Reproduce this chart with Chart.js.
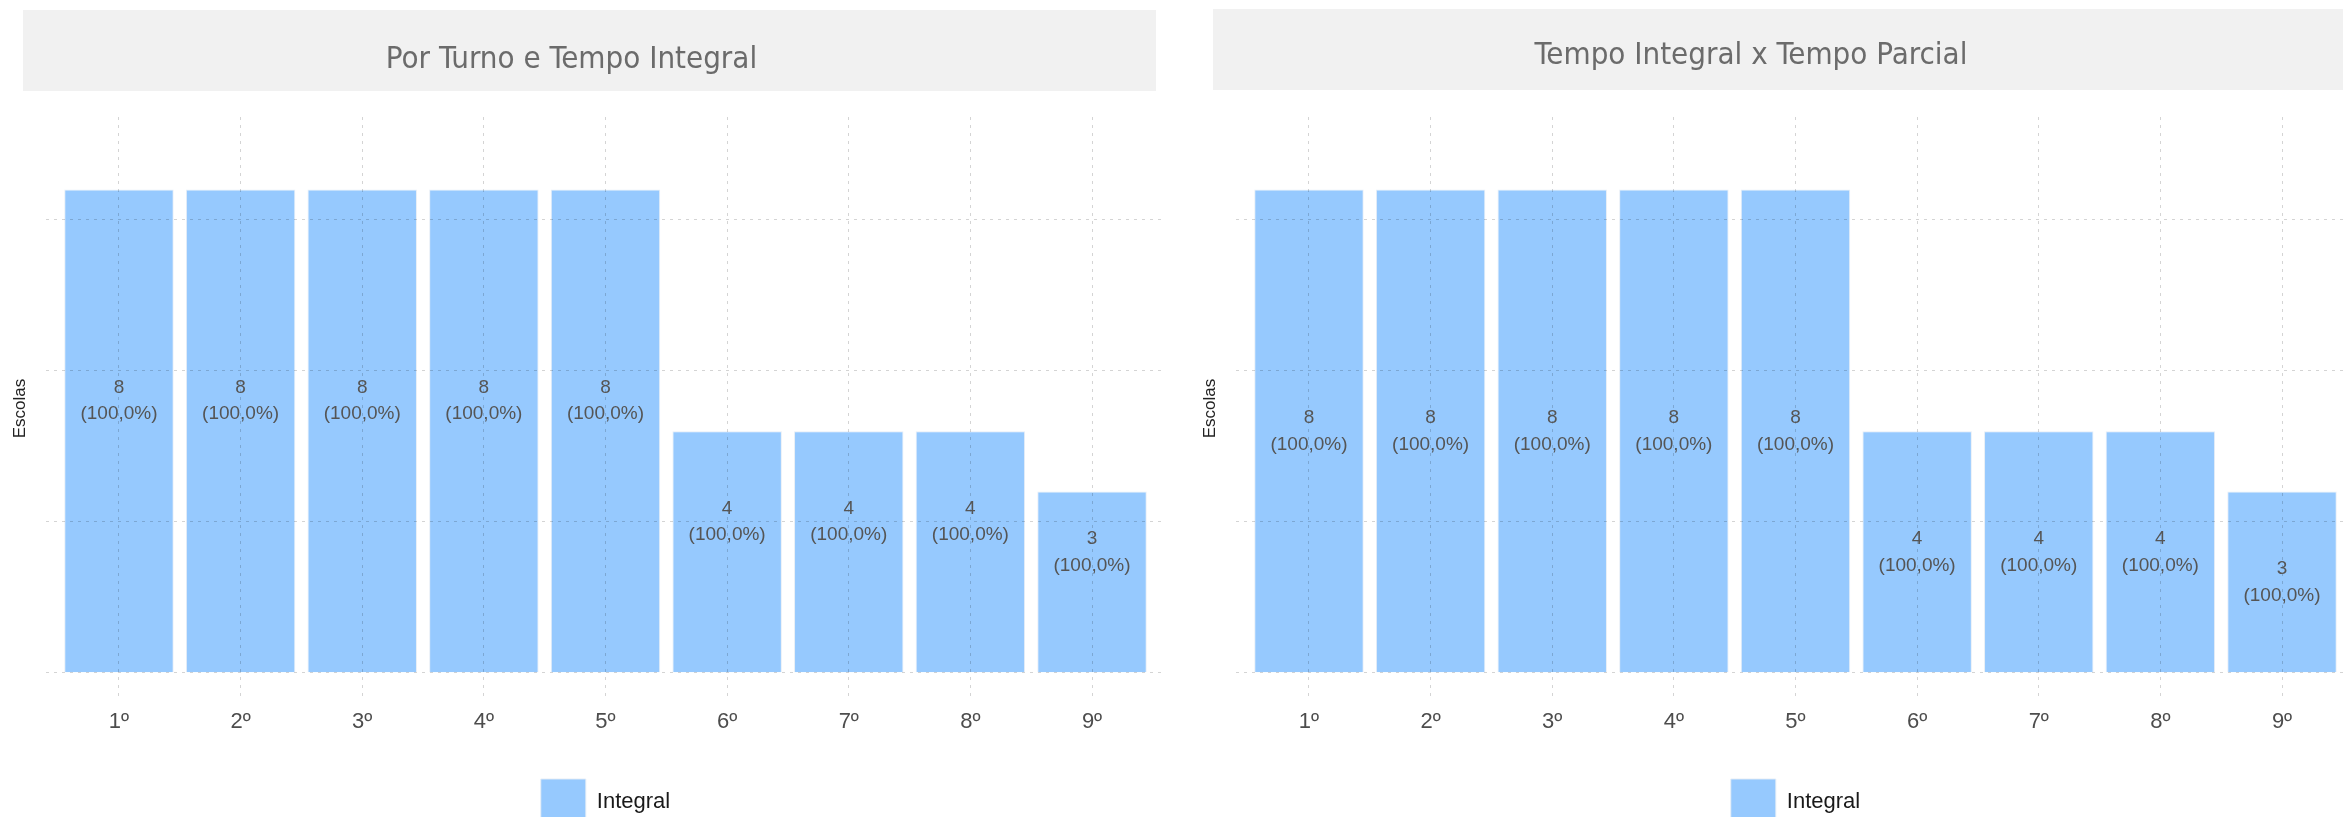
<!DOCTYPE html>
<html>
<head>
<meta charset="utf-8">
<script src="https://cdn.jsdelivr.net/npm/chart.js@4/dist/chart.umd.min.js"></script>
<style>
  html, body { margin:0; padding:0; background:#ffffff; overflow:hidden; width:2343px; height:817px; }
  canvas { position:absolute; top:0; }
  #leftChart { left:-22px; }
  #rightChart { left:1147px; }
</style>
</head>
<body>
<canvas id="leftChart" width="1187" height="834"></canvas>
<canvas id="rightChart" width="1208" height="834"></canvas>
<script>
// ---- data ----
const categories = ['1º', '2º', '3º', '4º', '5º', '6º', '7º', '8º', '9º'];
const seriesName = 'Integral';
const integralCounts = [8, 8, 8, 8, 8, 4, 4, 4, 3];
const integralPercents = [100, 100, 100, 100, 100, 100, 100, 100, 100];
const panelTitles = ['Por Turno e Tempo Integral', 'Tempo Integral x Tempo Parcial'];
const yAxisTitle = 'Escolas';
const yGridStep = 2.5;
const yRange = [-0.45, 9.2];
const xRange = [-0.6, 8.6];
const labelShift = [0.5, 0];   // vertical offset (in value units) of the bar labels in each panel

// ---- styles ----
const barColor = '#96c9fe';
const gridColor = 'rgba(0,0,0,0.17)';
const gridDash = [3, 5];
const baseFont = "'Liberation Sans', Arial, Helvetica, sans-serif";
const titleFont = "'Liberation Sans Narrow', 'DejaVu Sans Condensed', 'Liberation Sans', sans-serif";
const titleSize = 31;

Chart.defaults.font.family = baseFont;
Chart.defaults.animation = false;

const fmtPct = p => '(' + p.toFixed(1).replace('.', ',') + '%)';

const headerBox = {
  id: 'headerBox',
  beforeDraw(chart, args, opts) {
    const {ctx, chartArea} = chart;
    ctx.save();
    ctx.fillStyle = '#f1f1f1';
    const x0 = chartArea.left - 23;
    const x1 = chartArea.right - 9;
    ctx.fillRect(x0, opts.top, x1 - x0, 81);
    ctx.restore();
  }
};

const barLabels = {
  id: 'barLabels',
  afterDraw(chart, args, opts) {
    const {ctx} = chart;
    const meta = chart.getDatasetMeta(0);
    const yScale = chart.scales.y;
    ctx.save();
    ctx.font = '19px ' + baseFont;
    ctx.fillStyle = '#555555';
    ctx.textAlign = 'center';
    ctx.textBaseline = 'middle';
    meta.data.forEach((bar, i) => {
      const v = integralCounts[i];
      const cy = yScale.getPixelForValue(v / 2 + opts.shift);
      ctx.fillText(String(v), bar.x, cy - 13.3);
      ctx.fillText(fmtPct(integralPercents[i]), bar.x, cy + 13.3);
    });
    ctx.restore();
  }
};

function makePanel(canvasId, idx, cfg) {
  const data = categories.map((c, i) => ({x: i, y: integralCounts[i]}));
  const lh = titleSize * 1.2;
  return new Chart(document.getElementById(canvasId), {
    type: 'bar',
    data: {
      datasets: [{
        label: seriesName,
        data: data,
        backgroundColor: barColor,
        borderColor: 'rgba(228,236,245,0.9)',
        borderWidth: 1,
        barPercentage: 0.9,
        categoryPercentage: 1.0
      }]
    },
    options: {
      responsive: false,
      maintainAspectRatio: false,
      devicePixelRatio: 1,
      layout: { padding: 0 },
      scales: {
        x: {
          type: 'linear',
          offset: false,
          min: xRange[0],
          max: xRange[1],
          grid: { offset: false, color: gridColor, lineWidth: 1, drawTicks: false, z: 1 },
          border: { display: false, dash: gridDash },
          ticks: {
            stepSize: 1,
            includeBounds: false,
            padding: 9,
            color: '#4d4d4d',
            font: { size: 22 },
            callback: v => categories[v] ?? ''
          },
          afterFit: s => { s.height = 69; }
        },
        y: {
          type: 'linear',
          min: yRange[0],
          max: yRange[1],
          grid: { color: gridColor, lineWidth: 1, drawTicks: false, z: 1 },
          border: { display: false, dash: gridDash },
          ticks: { display: false, stepSize: yGridStep, includeBounds: false },
          title: {
            display: true,
            text: yAxisTitle,
            color: '#222222',
            font: { size: 17 },
            padding: { top: cfg.yTitlePad, bottom: 0 }
          },
          afterFit: s => { s.width = cfg.yAxisWidth; }
        }
      },
      plugins: {
        title: {
          display: true,
          text: panelTitles[idx],
          color: '#6b6b6b',
          font: { family: titleFont, size: titleSize, weight: 'normal' },
          padding: { top: cfg.titlePadTop, bottom: 117 - lh - cfg.titlePadTop }
        },
        legend: {
          position: 'bottom',
          fullSize: false,
          labels: {
            boxWidth: 45,
            boxHeight: 45,
            padding: 10,
            color: '#1a1a1a',
            font: { size: 22 }
          }
        },
        tooltip: { enabled: false },
        headerBox: { top: cfg.boxTop },
        barLabels: { shift: labelShift[idx] }
      }
    },
    plugins: [headerBox, barLabels]
  });
}

makePanel('leftChart', 0, { yAxisWidth: 68, yTitlePad: 32.5, titlePadTop: 41.2, boxTop: 10 });
makePanel('rightChart', 1, { yAxisWidth: 89, yTitlePad: 53.5, titlePadTop: 37.2, boxTop: 9 });
</script>
</body>
</html>
